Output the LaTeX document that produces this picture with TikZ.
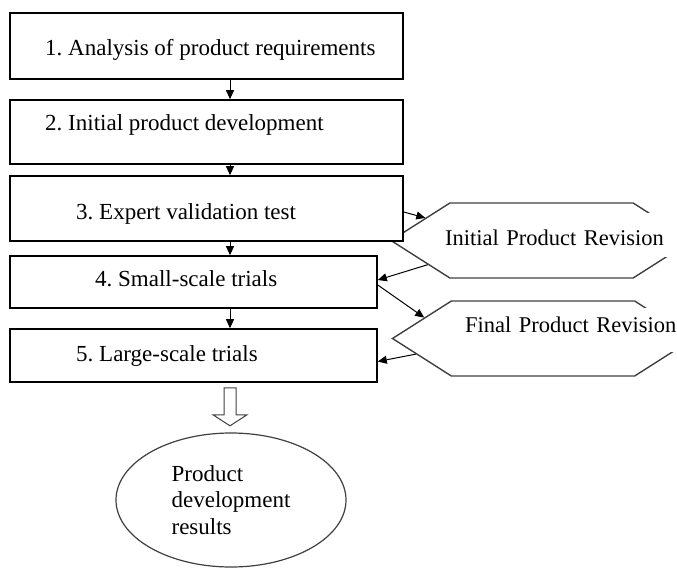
\documentclass[tikz,border=0pt]{standalone}
\usepackage{fontspec}
\setmainfont{Liberation Serif}
\usetikzlibrary{arrows.meta,shapes.geometric,shapes.symbols,calc}
\tikzset{>={Triangle[width=8pt,length=9pt]}}
\tikzset{
  stepbox/.style={draw, line width=1.6pt, fill=white, inner sep=0pt},
  revbox/.style={draw=black!75, line width=1.4pt, signal, signal to=west and east,
    signal pointer angle=65, minimum width=301pt, minimum height=75pt, inner sep=0pt},
  steptext/.style={anchor=base west, inner sep=0pt},
  revtext/.style={anchor=base west, fill=white, inner xsep=4pt, inner ysep=2pt, align=left,
    font=\fontsize{22.5}{26}\selectfont},
  flow/.style={->, line width=1pt},
}

\begin{document}
\frenchspacing
\begin{tikzpicture}[x=1pt,y=-1pt]

  \fontsize{23}{26.5}\selectfont

  \useasboundingbox (0,0) rectangle (677,568);
  \coordinate (spine) at (230,0);

  % revision loops, the step boxes sit on top of them
  \node[revbox] (initrev) at (541.5,240.5) {};
  \node[revbox] (finalrev) at (543,338.5) {};
  \node[revtext, text width=236pt, text height=30pt, text depth=10pt]
    (initrevtxt) at (441,245) {Initial Product Revision};
  \node[revtext, text width=216pt, text height=22pt, text depth=18pt]
    (finalrevtxt) at (461,332) {Final Product Revision};

  % steps
  \node[stepbox, minimum width=393pt, minimum height=66pt] (req) at (206.5,46) {};
  \node[stepbox, minimum width=393pt, minimum height=64pt] (dev) at (206.5,132) {};
  \node[stepbox, minimum width=393pt, minimum height=65pt] (valid) at (206.5,208.5) {};
  \node[stepbox, minimum width=367pt, minimum height=52pt] (small) at (193.5,282) {};
  \node[stepbox, minimum width=367pt, minimum height=53pt] (large) at (193.5,355.5) {};

  \node[steptext] (reqtxt) at (45,55) {1. Analysis of product requirements};
  \node[steptext] (devtxt) at (45,130) {2. Initial product development};
  \node[steptext] (validtxt) at (76,219) {3. Expert validation test};
  \node[steptext] (smalltxt) at (95,286.5) {4. Small-scale trials};
  \node[steptext] (largetxt) at (76,361.5) {5. Large-scale trials};

  \node[ellipse, draw=black!75, line width=1.2pt, minimum width=230pt, minimum height=134pt,
    inner sep=0pt, align=left] (result) at (231,500) {Product\\development\\results};

  % main line
  \draw[flow] (req.south -| spine) -- (dev.north -| spine);
  \draw[flow] (dev.south -| spine) -- (valid.north -| spine);
  \draw[flow] (valid.south -| spine) -- (small.north -| spine);
  \draw[flow] (small.south -| spine) -- (large.north -| spine);

  % side loops
  \draw[flow] ([yshift=-3.5pt]valid.east) -- (initrev.169);
  \draw[flow] (initrev.192) -- ([yshift=2pt]small.east);
  \draw[flow] ([yshift=-3pt]small.east) -- (finalrev.170);
  \draw[flow] (finalrev.187.5) -- ([yshift=-6pt]large.east);

  % hollow arrow to the results
  \draw[line width=1pt, draw=black!75, fill=white] ($(large.south -| spine)+(-6,5)$)
    -- ++(0,27) -- ++(-11,0) -- ++(17,11) -- ++(17,-11) -- ++(-11,0) -- ++(0,-27) -- cycle;

\end{tikzpicture}
\end{document}
